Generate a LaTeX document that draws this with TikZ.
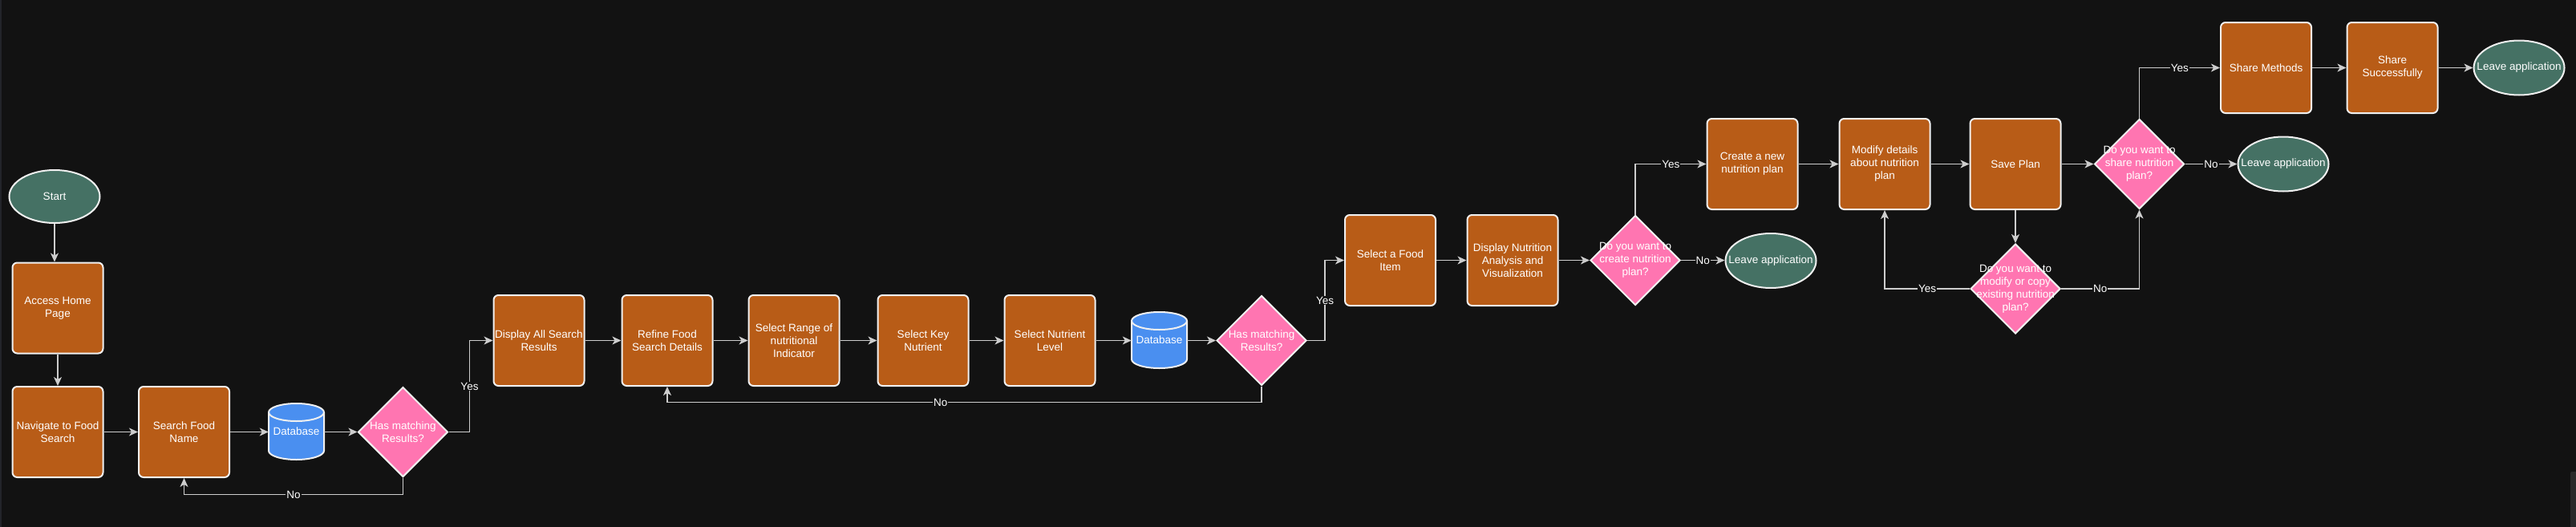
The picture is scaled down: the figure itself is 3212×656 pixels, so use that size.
\documentclass[tikz,border=0pt]{standalone}
\usepackage{fontspec}
\setmainfont{Liberation Sans}
\usetikzlibrary{arrows.meta,shapes.geometric}
\definecolor{bg}{HTML}{121212}
\definecolor{stripcol}{HTML}{23242A}
\definecolor{sbcol}{HTML}{2A2A2A}
\definecolor{procfill}{HTML}{B85C17}
\definecolor{decfill}{HTML}{FF75B1}
\definecolor{termfill}{HTML}{457164}
\definecolor{dbfill}{HTML}{4A8FF0}
\definecolor{edgecol}{HTML}{CDCDCD}
\definecolor{bordcol}{HTML}{F0F0F0}
\newcommand{\dbshape}[3]{%
  \draw[draw=bordcol, line width=2pt, fill=dbfill] (#2-34.5,#3-24) -- (#2-34.5,#3+24)
     arc[start angle=180,end angle=360,x radius=34.5pt,y radius=11pt] -- (#2+34.5,#3-24)
     arc[start angle=0,end angle=180,x radius=34.5pt,y radius=11pt] -- cycle;
  \draw[draw=bordcol, line width=2pt] (#2-34.5,#3-24) arc[start angle=180,end angle=360,x radius=34.5pt,y radius=11pt];
  \node[dbbox] (#1) at (#2,#3) {Database};
}
\begin{document}
\begin{tikzpicture}[x=1pt,y=-1pt,
  every node/.style={font=\fontsize{13.5}{16}\selectfont, text=white, align=center, inner sep=0pt},
  procbox/.style={draw=bordcol, line width=2pt, fill=procfill, rounded corners=6pt, minimum width=113pt, minimum height=113pt},
  decbox/.style={diamond, draw=bordcol, line width=2pt, fill=decfill, minimum width=112pt, minimum height=112pt, aspect=1},
  termbox/.style={ellipse, draw=bordcol, line width=2pt, fill=termfill, minimum width=113pt, minimum height=68pt},
  dbbox/.style={minimum width=69pt, minimum height=70pt},
  flow/.style={draw=edgecol, line width=1.5pt, -{Stealth[length=11pt,width=10pt,inset=3pt]}},
  lbl/.style={fill=bg, inner sep=1pt}
]
\useasboundingbox (0,0) rectangle (3212,656);
\fill[bg] (-6,-6) rectangle (3218,662);
\fill[stripcol] (-6,-6) rectangle (2,662);
\fill[sbcol, rounded corners=2pt] (3205,588) rectangle (3218,662);

% terminals
\node[termbox, minimum height=66pt] (start) at (68,245) {};
\node at (start) {Start};

% process boxes
\node[procbox] (access) at (72,384) {Access Home\\Page};
\node[procbox] (nav) at (72,538.5) {Navigate to Food\\Search};
\node[procbox] (search) at (229.5,538.5) {Search Food\\Name};
\dbshape{db1}{369.5}{538}
\node[decbox] (d1) at (502.5,538.5) {};
\node at (d1) {Has matching\\Results?};

\node[procbox] (disp) at (672,424.5) {Display All Search\\Results};
\node[procbox] (refine) at (832,424.5) {Refine Food\\Search Details};
\node[procbox] (range) at (990,424.5) {Select Range of\\nutritional\\Indicator};
\node[procbox] (key) at (1151,424.5) {Select Key\\Nutrient};
\node[procbox] (level) at (1309,424.5) {Select Nutrient\\Level};
\dbshape{db2}{1445.5}{424}
\node[decbox] (d2) at (1573,424.5) {};
\node at (d2) {Has matching\\Results?};

\node[procbox] (food) at (1733.5,324.5) {Select a Food\\Item};
\node[procbox] (dna) at (1886,324.5) {Display Nutrition\\Analysis and\\Visualization};
\node[decbox] (d3) at (2039,324.5) {};
\node at (d3) {Do you want to\\create nutrition\\plan?};
\node[termbox] (leave1) at (2208,325) {};
\node at (leave1) {Leave application};

\node[procbox] (create) at (2185,204.5) {Create a new\\nutrition plan};
\node[procbox] (modify) at (2350,204.5) {Modify details\\about nutrition\\plan};
\node[procbox] (save) at (2513,204.5) {Save Plan};
\node[decbox] (d4) at (2667.5,204.5) {};
\node at (d4) {Do you want to\\share nutrition\\plan?};
\node[decbox] (d5) at (2513,360) {};
\node at (d5) {Do you want to\\modify or copy\\existing nutrition\\plan?};
\node[termbox] (leave2) at (2847,204.5) {};
\node at (leave2) {Leave application};

\node[procbox] (sharem) at (2825.5,84.5) {Share Methods};
\node[procbox] (shares) at (2983,84.5) {Share\\Successfully};
\node[termbox] (leave3) at (3141,84.5) {};
\node at (leave3) {Leave application};

% connectors
\draw[flow] (start.south) -- (start.south |- access.north);
\draw[flow] (access.south) -- (nav.north);
\draw[flow] (nav) -- (search);
\draw[flow] (search.east) -- (search.east -| db1.west);
\draw[flow] (db1.east |- d1.west) -- (d1.west);
\draw[flow] (d1.east) -- ++(26,0) |- (disp.west) node[pos=0.25,lbl]{Yes};
\draw[flow] (d1.south) -- ++(0,21) -| (search.south) node[pos=0.25,lbl]{No};

\draw[flow] (disp) -- (refine);
\draw[flow] (refine) -- (range);
\draw[flow] (range) -- (key);
\draw[flow] (key) -- (level);
\draw[flow] (level.east) -- (level.east -| db2.west);
\draw[flow] (db2.east |- d2.west) -- (d2.west);
\draw[flow] (d2.south) -- ++(0,20) -| (refine.south) node[pos=0.27,lbl]{No};
\draw[flow] (d2.east) -- ++(22,0) |- (food.west) node[pos=0.25,lbl]{Yes};

\draw[flow] (food) -- (dna);
\draw[flow] (dna) -- (d3);
\draw[flow] (d3.east) -- (d3.east -| leave1.west) node[midway,lbl]{No};
\draw[flow] (d3.north) |- (create.west) node[pos=0.75,lbl]{Yes};

\draw[flow] (create) -- (modify);
\draw[flow] (modify) -- (save);
\draw[flow] (save) -- (d4);
\draw[flow] (save.south) -- (d5.north);
\draw[flow] (d5.west) -| (modify.south) node[pos=0.25,lbl]{Yes};
\draw[flow] (d5.east) -| (d4.south) node[pos=0.25,lbl]{No};
\draw[flow] (d4.east) -- (leave2.west) node[midway,lbl]{No};
\draw[flow] (d4.north) |- (sharem.west) node[pos=0.75,lbl]{Yes};

\draw[flow] (sharem) -- (shares);
\draw[flow] (shares) -- (leave3);
\end{tikzpicture}
\end{document}
